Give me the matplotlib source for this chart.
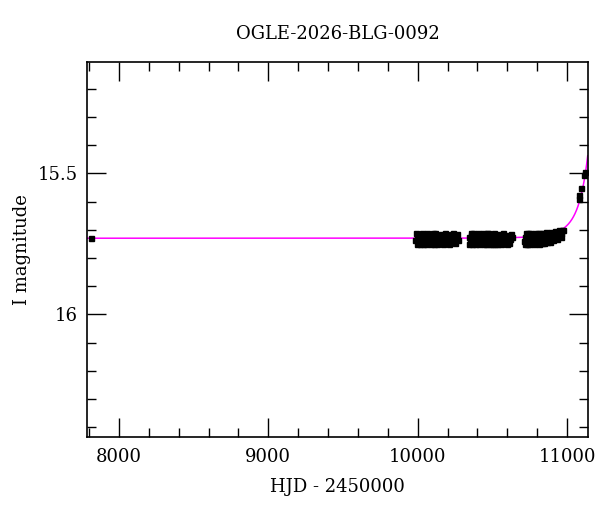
import numpy as np
import matplotlib.pyplot as plt
from matplotlib.ticker import MultipleLocator

# --- Данные (HJD - 2450000, I mag) ---
title = "OGLE-2026-BLG-0092"

t_old = [7810]
m_old = [15.729]

t_s1 = [9985, 9992, 10000, 10008, 10015, 10021, 10030, 10038, 10046, 10053,
        10060, 10070, 10078, 10085, 10095, 10104, 10112, 10120, 10131, 10140,
        10150, 10162, 10175, 10190, 10205, 10218, 10232, 10245, 10258, 10268,
        9988, 9996, 10004, 10012, 10026, 10034, 10042, 10057, 10065, 10074,
        10090, 10099, 10108, 10116, 10126, 10145, 10156, 10168, 10182, 10198,
        10211, 10225, 10239, 10252, 10263]
m_s1 = [15.738, 15.722, 15.745, 15.729, 15.719, 15.741, 15.732, 15.724, 15.748, 15.735,
        15.721, 15.743, 15.727, 15.716, 15.739, 15.731, 15.722, 15.746, 15.728, 15.717,
        15.737, 15.726, 15.742, 15.733, 15.719, 15.724, 15.744, 15.729, 15.721, 15.738,
        15.713, 15.750, 15.715, 15.752, 15.712, 15.749, 15.714, 15.751, 15.711, 15.747,
        15.752, 15.713, 15.749, 15.712, 15.750, 15.748, 15.714, 15.751, 15.713, 15.746,
        15.749, 15.715, 15.712, 15.747, 15.714]

t_s2 = [10342, 10350, 10357, 10365, 10373, 10380, 10390, 10398, 10406, 10415,
        10423, 10432, 10440, 10449, 10458, 10467, 10476, 10485, 10495, 10505,
        10515, 10526, 10538, 10550, 10562, 10575, 10590, 10605, 10618, 10630,
        10346, 10354, 10361, 10369, 10377, 10385, 10394, 10402, 10411, 10419,
        10428, 10436, 10445, 10454, 10463, 10472, 10481, 10490, 10500, 10510,
        10520, 10532, 10544, 10556, 10568, 10582, 10597, 10612, 10624]
m_s2 = [15.727, 15.741, 15.720, 15.735, 15.746, 15.724, 15.718, 15.737, 15.729, 15.744,
        15.722, 15.733, 15.740, 15.719, 15.728, 15.747, 15.725, 15.736, 15.721, 15.742,
        15.730, 15.717, 15.739, 15.726, 15.745, 15.723, 15.734, 15.720, 15.731, 15.724,
        15.750, 15.713, 15.749, 15.712, 15.714, 15.751, 15.748, 15.713, 15.750, 15.715,
        15.748, 15.711, 15.752, 15.749, 15.713, 15.712, 15.750, 15.714, 15.751, 15.713,
        15.749, 15.752, 15.714, 15.750, 15.713, 15.748, 15.751, 15.746, 15.716]

t_s3 = [10712, 10720, 10728, 10735, 10743, 10750, 10758, 10766, 10774, 10782,
        10790, 10798, 10806, 10815, 10824, 10833, 10842, 10851, 10860, 10870,
        10880, 10890, 10900, 10912, 10925, 10938, 10950, 10962, 10975,
        10716, 10724, 10731, 10739, 10747, 10754, 10762, 10770, 10778, 10786,
        10794, 10802, 10811, 10820, 10829, 10838, 10847, 10856, 10865, 10875,
        10885, 10895, 10906, 10918, 10931, 10944, 10956, 10968]
m_s3 = [15.739, 15.724, 15.745, 15.730, 15.719, 15.741, 15.727, 15.736, 15.722, 15.743,
        15.731, 15.718, 15.738, 15.725, 15.733, 15.716, 15.740, 15.726, 15.721, 15.735,
        15.719, 15.729, 15.714, 15.724, 15.712, 15.718, 15.706, 15.713, 15.702,
        15.750, 15.712, 15.749, 15.713, 15.751, 15.711, 15.748, 15.714, 15.750, 15.712,
        15.747, 15.713, 15.749, 15.711, 15.746, 15.710, 15.748, 15.709, 15.745, 15.711,
        15.742, 15.708, 15.738, 15.705, 15.732, 15.702, 15.724, 15.700]

t_rise = [11078, 11082, 11094, 11114, 11120]
m_rise = [15.592, 15.577, 15.551, 15.506, 15.495]

# параметры модели Пачинского
t0, tE, u0, I0, fs = 11258.0, 115.0, 0.1, 15.73, 1.0

t_all = np.concatenate([t_old, t_s1, t_s2, t_s3, t_rise])
m_all = np.concatenate([m_old, m_s1, m_s2, m_s3, m_rise])

tt = np.linspace(7788, 11138, 2000)
u = np.sqrt(u0**2 + ((tt - t0) / tE)**2)
A = (u**2 + 2) / (u * np.sqrt(u**2 + 4))
model = I0 - 2.5 * np.log10(fs * A + 1 - fs)

# --- График ---
plt.rcParams['font.family'] = ['DejaVu Serif']
fig = plt.figure(figsize=(6, 5.12), dpi=100)
ax = fig.add_axes([0.1455, 0.1471, 0.834, 0.7312])

ax.plot(tt, model, color="#ff00ff", lw=1.1, zorder=2)
ax.plot(t_all, m_all, "s", color="black", ms=3.6, mec="black", zorder=3)

ax.set_xlim(7788, 11138)
ax.set_ylim(16.434, 15.106)

ax.xaxis.set_major_locator(MultipleLocator(1000))
ax.xaxis.set_minor_locator(MultipleLocator(200))
ax.yaxis.set_major_locator(MultipleLocator(0.5))
ax.yaxis.set_minor_locator(MultipleLocator(0.1))
ax.set_yticks([15.5, 16.0])
ax.set_yticklabels(["15.5", "16"])

ax.tick_params(which="both", direction="in", top=True, right=True, labelsize=13)
ax.tick_params(which="major", length=13.5, width=1.0)
ax.tick_params(which="minor", length=6.5, width=1.0)
ax.tick_params(axis="x", pad=8)
ax.tick_params(axis="y", pad=7)
for s in ax.spines.values():
    s.set_linewidth(1.2)

ax.set_xlabel("HJD - 2450000", fontsize=13, labelpad=9)
ax.set_ylabel("I magnitude", fontsize=13, labelpad=5)
ax.set_title(title, fontsize=13, pad=17)

plt.savefig("out.png", dpi=100)
